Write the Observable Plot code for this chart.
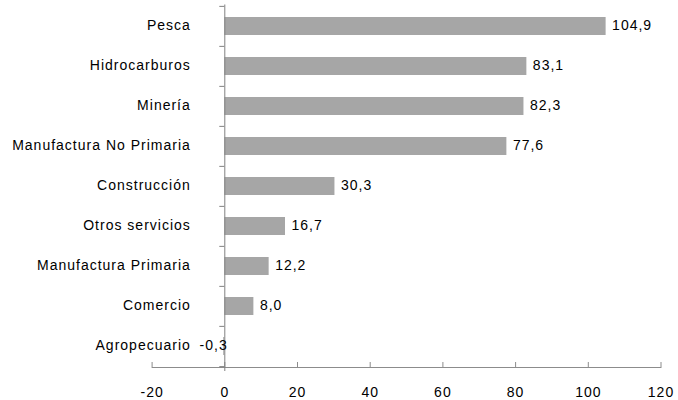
<!DOCTYPE html>
<html>
<head>
<meta charset="utf-8">
<script src="https://cdn.jsdelivr.net/npm/d3@7"></script>
<script src="https://cdn.jsdelivr.net/npm/@observablehq/plot@0.6"></script>
<style>
  html, body { margin: 0; padding: 0; background: #ffffff; }
</style>
</head>
<body>
<div id="chart"></div>
<script>
const categories = ["Pesca", "Hidrocarburos", "Minería", "Manufactura No Primaria", "Construcción", "Otros servicios", "Manufactura Primaria", "Comercio", "Agropecuario"];
const values = [104.9, 83.1, 82.3, 77.6, 30.3, 16.7, 12.2, 8.0, -0.3];
const xTicks = [-20, 0, 20, 40, 60, 80, 100, 120];

const data = categories.map((c, i) => ({
  category: c,
  value: values[i],
  label: values[i].toFixed(1).replace(".", ",")
}));

const W = 678, H = 400, mt = 4.5, mb = 33, ml = 151.6, mr = 17.5;
const step = (H - mt - mb) / categories.length;

const chart = Plot.plot({
  width: W,
  height: H,
  marginLeft: ml,
  marginRight: mr,
  marginTop: mt,
  marginBottom: mb,
  style: {
    fontFamily: "'Liberation Sans', Arial, sans-serif",
    fontSize: "14px",
    letterSpacing: "1px",
    background: "#ffffff",
    color: "#000000"
  },
  x: { domain: [-20, 120], axis: null, label: null },
  y: { domain: categories, paddingInner: 0.55, paddingOuter: 0.275, axis: null, label: null },
  marks: [
    Plot.barX(data, { x: "value", y: "category", fill: "#a6a6a6" }),
    Plot.frame({ anchor: "bottom", stroke: "#8c8c8c" }),
    Plot.ruleX(xTicks, { stroke: "#8c8c8c", insetTop: (H - mt - mb) - 5 }),
    Plot.ruleX([0], { stroke: "#808080", insetBottom: -4 }),
    Plot.ruleY(categories, { x1: 0, x2: 0, dy: -step / 2, insetLeft: -5, stroke: "#808080" }),
    Plot.ruleY(categories.slice(-1), { x1: 0, x2: 0, dy: step / 2, insetLeft: -5, stroke: "#808080" }),
    Plot.text(categories, { x: 0, y: d => d, text: d => d, textAnchor: "end", dx: -34, dy: -1, fill: "#000", fontSize: 14 }),
    Plot.text(data.filter(d => d.value >= 0), { x: "value", y: "category", text: "label", textAnchor: "start", dx: 6, dy: -1, fill: "#000", fontSize: 14 }),
    Plot.text(data.filter(d => d.value < 0), { x: "value", y: "category", text: "label", textAnchor: "end", dx: 4, dy: -1, fill: "#000", fontSize: 14 }),
    Plot.axisX({ ticks: xTicks, tickSize: 0, tickPadding: 20, tickFormat: d => String(d), fontSize: 14, fill: "#000", label: null })
  ]
});

document.getElementById("chart").appendChild(chart);
</script>
</body>
</html>
